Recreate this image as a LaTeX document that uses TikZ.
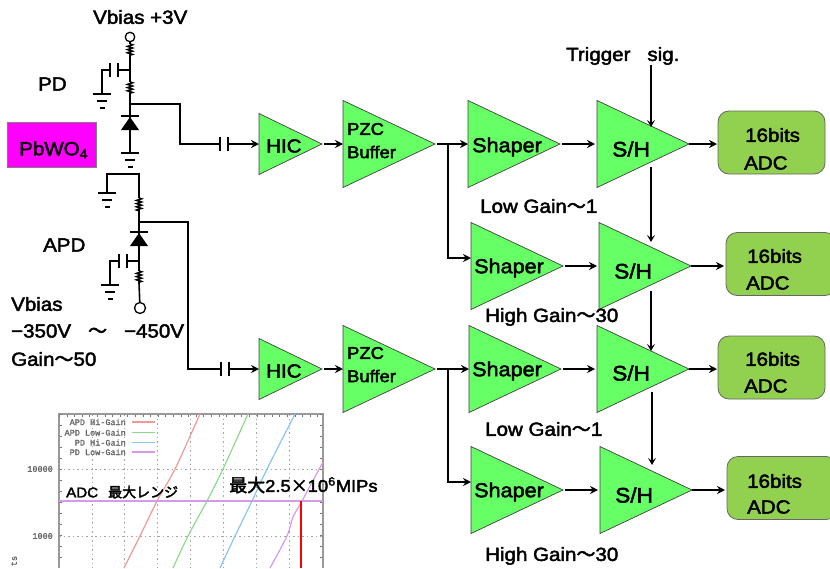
\documentclass[tikz,border=0pt]{standalone}
\usepackage{fontspec}
\usepackage{tikz}
\usetikzlibrary{shapes.geometric,arrows.meta,decorations.pathmorphing,calc}
\setmainfont[FakeBold=2.4,FakeStretch=1.08]{Liberation Sans}
\newfontfamily\cjk[FakeBold=2.4]{Noto Sans CJK JP}
\newfontfamily\plotfont[FakeBold=1.5]{Liberation Mono}
\definecolor{ampgreen}{HTML}{66FF66}
\definecolor{adcgreen}{HTML}{92D050}
\definecolor{crystalpink}{HTML}{FF00FF}
\definecolor{curvered}{HTML}{EE9A96}
\definecolor{curvegreen}{HTML}{8FD98A}
\definecolor{curveblue}{HTML}{8CC4EE}
\definecolor{curvepurple}{HTML}{D39AEA}
\tikzset{
  amp/.style={draw=black!75, fill=ampgreen, line width=0.7pt, isosceles triangle, isosceles triangle stretches, shape border rotate=0, inner sep=0pt, outer sep=0pt, minimum width=87, minimum height=92, anchor=lower side},
  smallamp/.style={amp, minimum width=61, minimum height=63},
  adc/.style={draw=black!60, fill=adcgreen, line width=0.8pt, rounded corners=11pt, inner sep=0pt, outer sep=0pt, minimum width=107, minimum height=63},
  lbl/.style={font=\fontsize{19}{19}\selectfont, anchor=west, inner sep=0pt},
  biglbl/.style={lbl, font=\fontsize{21}{21}\selectfont},
  shaperlbl/.style={lbl, font=\fontsize{20}{20}\selectfont},
  pzclbl/.style={lbl, font=\fontsize{17}{17}\selectfont},
  sig/.style={line width=2pt, -{Stealth[length=8pt,width=8pt]}},
  wire/.style={line width=1.6pt},
  res/.style={line width=1.6pt, decorate, decoration={zigzag, segment length=3.2pt, amplitude=2.4pt}},
  trig/.style={line width=1.2pt, -{Stealth[length=7pt,width=8pt,inset=3pt]}},
  terminal/.style={draw, circle, line width=1.3pt, fill=white, inner sep=0pt, minimum size=9.5},
  plotlbl/.style={font=\plotfont\fontsize{8.5}{8.5}\selectfont, text=black!60, inner sep=0pt, anchor=east},
  plotgrid/.style={black!35, dash pattern=on 1.5pt off 3pt, line width=0.7pt},
  curve/.style={line width=1.2pt}
}
\begin{document}
\begin{tikzpicture}[x=1pt, y=-1pt]
  \newcommand{\GroundMark}[1]{%
    \draw[wire] ($(#1)+(-9,0)$) -- ($(#1)+(9,0)$);
    \draw[wire] ($(#1)+(-5,7)$) -- ($(#1)+(5,7)$);
    \draw[wire] ($(#1)+(-2.5,14)$) -- ($(#1)+(2.5,14)$);%
  }
  \newcommand{\DiodeMark}[1]{%
    \fill ($(#1)+(0,1)$) -- ($(#1)+(9,14)$) -- ($(#1)+(-9,14)$) -- cycle;
    \draw[wire] ($(#1)+(-9,0)$) -- ($(#1)+(9,0)$);%
  }
  \newcommand{\PlateMark}[1]{%
    \draw[wire] ($(#1)+(0,-7)$) -- ($(#1)+(0,7)$);%
  }
  \useasboundingbox (0,0) rectangle (830,568);

  % inset plot
  \draw[plotgrid] (92,414)--(92,568) (124,414)--(124,568) (157,414)--(157,568) (190,414)--(190,568) (223,414)--(223,568) (256,414)--(256,568) (289,414)--(289,568) (59,469)--(323,469) (59,536)--(323,536);
  \draw[black!40, line width=1.3pt] (59,568) -- (59,414) -- (323,414) -- (323,568);
  \draw[black!55, line width=2pt, dash pattern=on 1pt off 6.6pt] (59,416) -- (323,416);
  \draw[black!55, line width=2pt, dash pattern=on 1pt off 10pt] (61,414) -- (61,568);
  \draw[black!55, line width=2pt, dash pattern=on 1pt off 10pt] (321,414) -- (321,568);
  \node[plotlbl] (tickA) at (53,469) {10000};
  \node[plotlbl] (tickB) at (53,536) {1000};
  \node[plotlbl, rotate=90, anchor=center] (axislbl) at (14,561) {ts};
  \node[plotlbl] (legA) at (126,422) {APD Hi-Gain};
  \node[plotlbl] (legB) at (126,432.5) {APD Low-Gain};
  \node[plotlbl] (legC) at (126,442.5) {PD Hi-Gain};
  \node[plotlbl] (legD) at (126,452) {PD Low-Gain};
  \draw[curve, curvered] (132,422) -- (155,422);
  \draw[curve, curvegreen] (132,432.5) -- (155,432.5);
  \draw[curve, curveblue] (132,442.5) -- (155,442.5);
  \draw[curve, curvepurple] (132,452) -- (155,452);
  \draw[curve, curvered] plot[smooth] coordinates {(200,414) (175,469) (157,501) (140,536) (124,568)};
  \draw[curve, curvegreen] plot[smooth] coordinates {(248,414) (223,469) (207,501) (188,536) (173,568)};
  \draw[curve, curveblue] plot[smooth] coordinates {(295,414) (267,469) (252,501) (235,536) (220,568)};
  \draw[curve, curvepurple] plot[smooth] coordinates {(323,462) (302,501) (293,517) (287,536) (270,568)};
  \draw[curvepurple, line width=2pt] (59,501) -- (323,501);
  \draw[red, line width=2pt] (301,501) -- (301,568);
  \node[lbl, font=\fontsize{14}{14}\selectfont] (rangelbl) at (66,492) {ADC\hspace{10pt}{\cjk 最大レンジ}};
  \node[lbl, font=\fontsize{17}{17}\selectfont] (maxlbl) at (229,485) {{\fontsize{18}{18}\selectfont\cjk 最大}2.5{\cjk ×}10\textsuperscript{6}MIPs};

  % PD side
  \node[terminal] (pdbias) at (130,37) {};
  \node[lbl] (pdbiaslbl) at (93,17) {Vbias +3V};
  \node[lbl] (pdlbl) at (38,84) {PD};
  \node[draw=black!50, fill=crystalpink, line width=0.6pt, minimum width=89, minimum height=45, inner sep=0pt] (crystal) at (51.5,144.5) {};
  \node[lbl] (crystallbl) at (19,150) {PbWO\textsubscript{4}};
  \coordinate (pdresAa) at (130,44);
  \coordinate (pdresAb) at (130,56);
  \coordinate (pdresBa) at (130,82);
  \coordinate (pdresBb) at (130,94);
  \coordinate (pdtap) at (130,70);
  \coordinate (pdjoin) at (130,104);
  \coordinate (pddiode) at (130,116);
  \coordinate (pdgnd) at (130,153);
  \coordinate (pddecA) at (118,70);
  \coordinate (pddecB) at (110,70);
  \coordinate (pddecgnd) at (102,94);
  \coordinate (pdbend) at (180,144);
  \coordinate (pdcapA) at (220,144);
  \coordinate (pdcapB) at (228,144);
  \draw[wire] (pdbias) -- (pdresAa);
  \draw[res] (pdresAa) -- (pdresAb);
  \draw[wire] (pdresAb) -- (pdresBa);
  \draw[res] (pdresBa) -- (pdresBb);
  \draw[wire] (pdresBb) -- (pdgnd);
  \draw[wire] (pdtap) -- (pddecA);
  \draw[wire] (pddecB) -| (pddecgnd);
  \draw[wire] (pdjoin) -| (pdbend) -- (pdcapA);
  \DiodeMark{pddiode}
  \GroundMark{pdgnd}
  \GroundMark{pddecgnd}
  \PlateMark{pddecA}
  \PlateMark{pddecB}
  \PlateMark{pdcapA}
  \PlateMark{pdcapB}

  % APD side
  \node[terminal, minimum size=11] (apdbias) at (140,308) {};
  \node[lbl] (apdlbl) at (43,245) {APD};
  \node[lbl] (vbiaslbl) at (11,304) {Vbias};
  \node[lbl] (rangetxt) at (11,331) {−350V\hspace{17pt}{\cjk 〜}\hspace{17pt}−450V};
  \node[lbl] (gainlbl) at (11,359) {Gain{\cjk 〜}50};
  \coordinate (apdtopgnd) at (107,193);
  \coordinate (apdtop) at (139,174);
  \coordinate (apdresAa) at (139,198);
  \coordinate (apdresAb) at (139,212);
  \coordinate (apdjoin) at (139,222);
  \coordinate (apddiode) at (139,232);
  \coordinate (apdtap) at (139,261);
  \coordinate (apdresBa) at (139,271);
  \coordinate (apdresBb) at (139,283);
  \coordinate (apddecA) at (127,261);
  \coordinate (apddecB) at (119,261);
  \coordinate (apddecgnd) at (110,285);
  \coordinate (apdbend) at (188,369);
  \coordinate (apdcapA) at (221,369);
  \coordinate (apdcapB) at (229,369);
  \draw[wire] (apdtopgnd) |- (apdtop) -- (apdresAa);
  \draw[res] (apdresAa) -- (apdresAb);
  \draw[wire] (apdresAb) -- (apdresBa);
  \draw[res] (apdresBa) -- (apdresBb);
  \draw[wire] (apdresBb) -- (apdbias);
  \draw[wire] (apdtap) -- (apddecA);
  \draw[wire] (apddecB) -| (apddecgnd);
  \draw[wire] (apdjoin) -| (apdbend) -- (apdcapA);
  \DiodeMark{apddiode}
  \GroundMark{apdtopgnd}
  \GroundMark{apddecgnd}
  \PlateMark{apddecA}
  \PlateMark{apddecB}
  \PlateMark{apdcapA}
  \PlateMark{apdcapB}

  % amplifier chains
  \node[smallamp] (hicA) at (259,144) {};
  \node[amp] (pzcA) at (343,144) {};
  \node[amp] (shaperA) at (468,144) {};
  \node[amp] (shA) at (597,144) {};
  \node[adc] (adcA) at (771.5,142.5) {};
  \node[amp] (shaperB) at (471,266) {};
  \node[amp] (shB) at (599,266) {};
  \node[adc, minimum width=110] (adcB) at (781,264) {};
  \node[smallamp] (hicB) at (259,369) {};
  \node[amp] (pzcB) at (343,369) {};
  \node[amp] (shaperC) at (469,369) {};
  \node[amp] (shC) at (597,369) {};
  \node[adc] (adcC) at (771.5,367.5) {};
  \node[amp] (shaperD) at (471,490) {};
  \node[amp] (shD) at (600,490) {};
  \node[adc, minimum width=110] (adcD) at (782,488) {};

  \node[lbl] (hicAlbl) at (266,146) {HIC};
  \node[pzclbl] (pzcAlbl) at (347,129) {PZC};
  \node[pzclbl] (bufAlbl) at (347,152) {Buffer};
  \node[shaperlbl] (shaperAlbl) at (472,147) {Shaper};
  \node[biglbl] (shAlbl) at (612,149) {S/H};
  \node[lbl] (adcAtop) at (745,135) {16bits};
  \node[lbl] (adcAbot) at (744,163) {ADC};
  \node[shaperlbl] (shaperBlbl) at (474,268) {Shaper};
  \node[biglbl] (shBlbl) at (614,271) {S/H};
  \node[lbl] (adcBtop) at (747,256) {16bits};
  \node[lbl] (adcBbot) at (746,283) {ADC};
  \node[lbl] (hicBlbl) at (266,371) {HIC};
  \node[pzclbl] (pzcBlbl) at (347,353) {PZC};
  \node[pzclbl] (bufBlbl) at (347,376) {Buffer};
  \node[shaperlbl] (shaperClbl) at (472,371) {Shaper};
  \node[biglbl] (shClbl) at (612,373) {S/H};
  \node[lbl] (adcCtop) at (745,359) {16bits};
  \node[lbl] (adcCbot) at (744,386) {ADC};
  \node[shaperlbl] (shaperDlbl) at (474,492) {Shaper};
  \node[biglbl] (shDlbl) at (615,495) {S/H};
  \node[lbl] (adcDtop) at (747,481) {16bits};
  \node[lbl] (adcDbot) at (747,507) {ADC};

  \node[lbl] (gainAlbl) at (480,206) {Low Gain{\cjk 〜}1};
  \node[lbl] (gainBlbl) at (485,317) {High Gain{\cjk 〜}30};
  \node[lbl] (gainClbl) at (485,429) {Low Gain{\cjk 〜}1};
  \node[lbl] (gainDlbl) at (485,556) {High Gain{\cjk 〜}30};
  \node[lbl] (triglbl) at (566,56) {Trigger\hspace{17pt}sig.};

  % signal arrows
  \draw[sig] (pdcapB) -- (hicA.lower side);
  \draw[sig, shorten <=2pt] (hicA.apex) -- (pzcA.lower side);
  \draw[sig, shorten <=2pt] (pzcA.apex) -- (shaperA.lower side);
  \draw[sig, shorten <=2pt, shorten >=2pt] (shaperA.apex) -- (shA.lower side);
  \draw[sig, shorten >=1pt] (shA.apex) -- (shA.apex -| adcA.west);
  \draw[sig, shorten <=2pt, shorten >=2pt] (shaperB.apex) -- (shB.lower side);
  \draw[sig, shorten >=2pt] (shB.apex) -- (shB.apex -| adcB.west);
  \draw[sig] (apdcapB) -- (hicB.lower side);
  \draw[sig, shorten <=2pt] (hicB.apex) -- (pzcB.lower side);
  \draw[sig, shorten <=2pt] (pzcB.apex) -- (shaperC.lower side);
  \draw[sig, shorten <=2pt, shorten >=2pt] (shaperC.apex) -- (shC.lower side);
  \draw[sig, shorten >=1pt] (shC.apex) -- (shC.apex -| adcC.west);
  \draw[sig, shorten <=2pt, shorten >=2pt] (shaperD.apex) -- (shD.lower side);
  \draw[sig, shorten >=2pt] (shD.apex) -- (shD.apex -| adcD.west);
  \coordinate (branchA) at (448,144);
  \coordinate (branchB) at (448,369);
  \coordinate (entryB) at (471,258);
  \coordinate (entryD) at (471,482);
  \draw[sig] (branchA) |- (entryB);
  \draw[sig] (branchB) |- (entryD);

  % trigger arrows
  \coordinate (trigstart) at (651,65);
  \coordinate (trigA) at (651,127);
  \coordinate (trigAout) at (651,167);
  \coordinate (trigB) at (651,242);
  \coordinate (trigBout) at (651,291);
  \coordinate (trigC) at (651,351);
  \coordinate (trigCout) at (652,392);
  \coordinate (trigD) at (652,465);
  \draw[trig] (trigstart) -- (trigA);
  \draw[trig] (trigAout) -- (trigB);
  \draw[trig] (trigBout) -- (trigC);
  \draw[trig] (trigCout) -- (trigD);
\end{tikzpicture}
\end{document}
